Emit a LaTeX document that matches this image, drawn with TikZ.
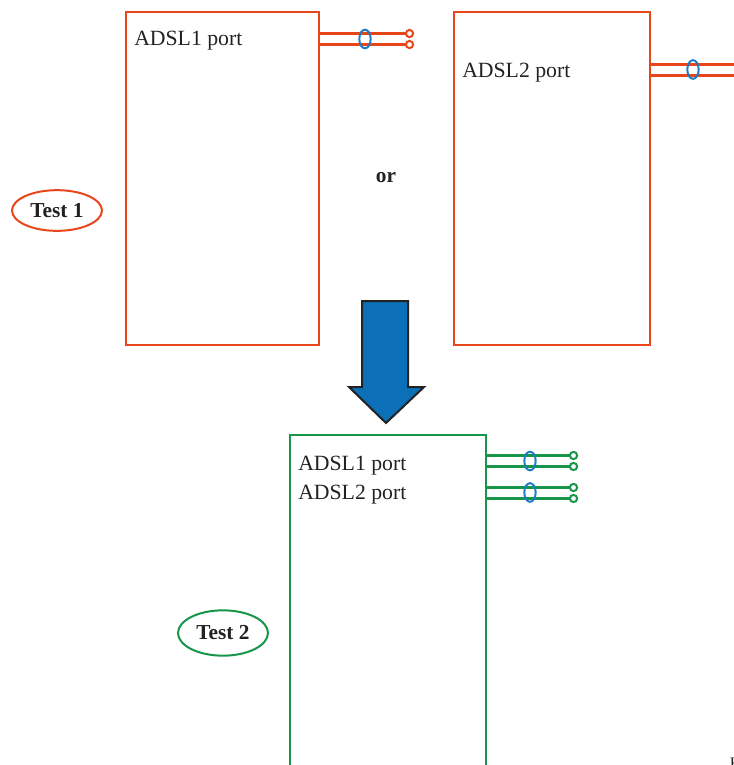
\documentclass[tikz,border=0pt]{standalone}
\usepackage{fontspec}
\setmainfont{Liberation Serif}
\usetikzlibrary{shapes.geometric}
\definecolor{orng}{HTML}{E8461A}
\definecolor{grn}{HTML}{17964A}
\definecolor{blu}{HTML}{1C7CC6}
\definecolor{arrfill}{HTML}{0B70B8}
\definecolor{txt}{HTML}{222222}
\begin{document}
\begin{tikzpicture}[x=0.75pt,y=-0.75pt,
  box/.style={draw,line width=1.5pt,fill=none,inner sep=0pt,anchor=north west},
  wire/.style={line width=2.25pt},
  loopend/.style={line width=1.5pt},
  choke/.style={draw=blu,line width=1.5pt,ellipse,inner sep=0pt,minimum width=8.5pt,minimum height=14pt},
  lbl/.style={font=\fontsize{16.3}{19}\selectfont,text=txt,inner sep=0pt,anchor=base west},
  tst/.style={ellipse,line width=1.5pt,inner sep=0pt,font=\fontsize{16}{19}\selectfont\bfseries,text=txt}
]
\useasboundingbox (0,0) rectangle (734,765);
\clip (0,0) rectangle (734,765);

% Test 1 boxes
\node[box,draw=orng,minimum width=144.75pt,minimum height=249.75pt] (b1) at (125,11) {};
\node[box,draw=orng,minimum width=147pt,minimum height=249.75pt] (b2) at (453,11) {};
\node[lbl] (l1) at (134,45.5) {ADSL1 port};
\node[lbl] (l2) at (462,77) {ADSL2 port};

% wires box1
\coordinate (e1a) at (406,33.5);
\coordinate (e1b) at (406,44.5);
\draw[wire,orng] (b1.east |- e1a) -- (e1a);
\draw[wire,orng] (b1.east |- e1b) -- (e1b);
\draw[loopend,orng] (409.5,33.5) circle (2.7pt);
\draw[loopend,orng] (409.5,44.5) circle (2.7pt);
\node[choke] (c1) at (365,39) {};

% wires box2
\coordinate (e2a) at (740,64.5);
\coordinate (e2b) at (740,75.5);
\draw[wire,orng] (b2.east |- e2a) -- (e2a);
\draw[wire,orng] (b2.east |- e2b) -- (e2b);
\node[choke] (c2) at (693,69.5) {};

\node[font=\fontsize{16}{19}\selectfont\bfseries,text=txt] (or) at (386,178) {or};
\node[tst,draw=orng,minimum width=67.5pt,minimum height=30.5pt] (t1) at (57,210.5) {Test 1};

% big arrow
\draw[line width=1.5pt,fill=arrfill,draw=txt,line join=miter]
  (362,301) -- (408,301) -- (408,387) -- (424,387) -- (386,423) -- (349,387) -- (362,387) -- cycle;

% Test 2 box
\node[box,draw=grn,minimum width=147pt,minimum height=252pt] (b3) at (289,434) {};
\node[lbl] (l3) at (298,470.5) {ADSL1 port};
\node[lbl] (l4) at (298,499.5) {ADSL2 port};

\foreach \y in {455.5,466.5,487.5,498.5} {
  \coordinate (g) at (570,\y);
  \draw[wire,grn] (b3.east |- g) -- (g);
  \draw[loopend,grn] (573.5,\y) circle (2.7pt);
}
\node[choke] (c3) at (530,461) {};
\node[choke] (c4) at (530,492.5) {};

\node[tst,draw=grn,minimum width=67.5pt,minimum height=34pt] (t2) at (223,633) {Test 2};

\node[font=\fontsize{12}{14}\selectfont,text=txt,inner sep=0pt,anchor=base west] (k) at (729.5,768) {K};
\end{tikzpicture}
\end{document}
